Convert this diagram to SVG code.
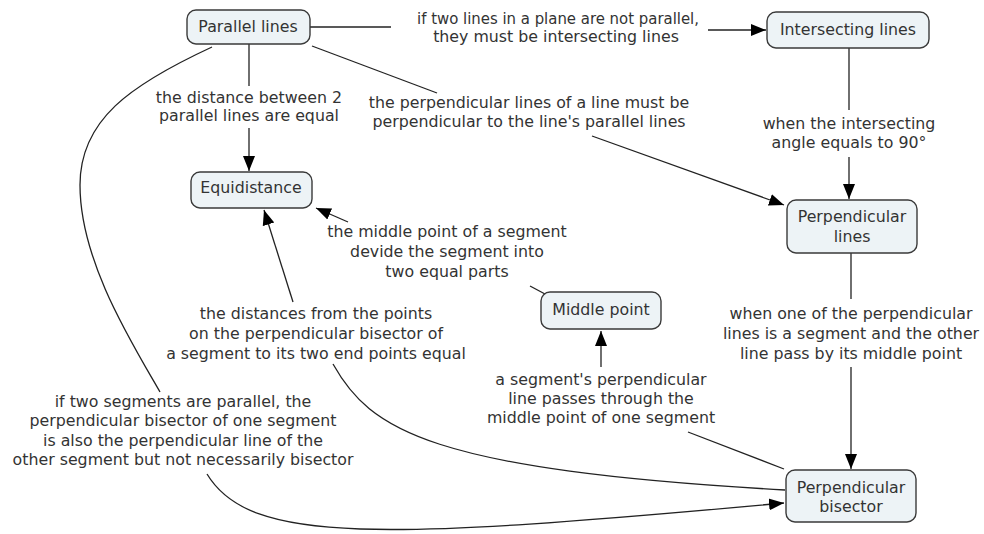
<svg xmlns="http://www.w3.org/2000/svg" width="984" height="534" viewBox="0 0 984 534">
<style>
.node rect{fill:#edf3f6;stroke:#3a3a3a;stroke-width:1.4}
text{font-family:"DejaVu Sans","Verdana",sans-serif;font-size:15.8px;fill:#333;text-anchor:middle}
.c path,.c line{fill:none;stroke:#222;stroke-width:1.3}
</style>
<defs>
<marker id="ah" markerUnits="userSpaceOnUse" markerWidth="16" markerHeight="14" viewBox="0 0 16 14" refX="15" refY="7" orient="auto">
<path d="M0,1 L15,7 L0,13 Z" fill="#000"/>
</marker>
</defs>
<rect width="984" height="534" fill="#fff"/>
<g class="c" id="connectors">
<line x1="310" y1="27" x2="391" y2="27"/>
<line x1="708" y1="30" x2="766" y2="30" marker-end="url(#ah)"/>
<line x1="249" y1="44" x2="249" y2="86"/>
<line x1="249" y1="128" x2="249" y2="171" marker-end="url(#ah)"/>
<line x1="312" y1="46" x2="437" y2="93"/>
<line x1="592" y1="136" x2="784" y2="205" marker-end="url(#ah)"/>
<line x1="849" y1="48" x2="849" y2="110"/>
<line x1="849" y1="157" x2="849" y2="199" marker-end="url(#ah)"/>
<line x1="851" y1="253" x2="851" y2="299"/>
<line x1="851" y1="367" x2="851" y2="469" marker-end="url(#ah)"/>
<line x1="545" y1="294" x2="530" y2="286"/>
<line x1="348" y1="222" x2="316" y2="208" marker-end="url(#ah)"/>
<line x1="293" y1="302" x2="264" y2="210" marker-end="url(#ah)"/>
<path d="M333,364 C370,430 430,470 785,490"/>
<line x1="784" y1="469" x2="688" y2="432"/>
<line x1="601" y1="367" x2="601" y2="331" marker-end="url(#ah)"/>
<path d="M212,47 C130,85 80,120 80,185 C80,260 130,340 160,392"/>
<path d="M207,474 C250,545 380,540 784,503" marker-end="url(#ah)"/>
</g>
<g id="labels">
<text x="558" y="24" textLength="282" lengthAdjust="spacingAndGlyphs">if two lines in a plane are not parallel,</text>
<text x="556" y="42">they must be intersecting lines</text>
<text x="249" y="103">the distance between 2</text>
<text x="249" y="121">parallel lines are equal</text>
<text x="529" y="108">the perpendicular lines of a line must be</text>
<text x="529" y="127">perpendicular to the line's parallel lines</text>
<text x="849" y="129">when the intersecting</text>
<text x="849" y="148">angle equals to 90°</text>
<text x="851" y="319">when one of the perpendicular</text>
<text x="851" y="339">lines is a segment and the other</text>
<text x="851" y="359">line pass by its middle point</text>
<text x="447" y="237">the middle point of a segment</text>
<text x="447" y="257">devide the segment into</text>
<text x="447" y="277">two equal parts</text>
<text x="316" y="319">the distances from the points</text>
<text x="316" y="339">on the perpendicular bisector of</text>
<text x="316" y="359">a segment to its two end points equal</text>
<text x="601" y="385">a segment's perpendicular</text>
<text x="601" y="404">line passes through the</text>
<text x="601" y="423">middle point of one segment</text>
<text x="183" y="407">if two segments are parallel, the</text>
<text x="183" y="426">perpendicular bisector of one segment</text>
<text x="183" y="446">is also the perpendicular line of the</text>
<text x="183" y="465">other segment but not necessarily bisector</text>
</g>
<g class="node" id="parallel-lines"><rect x="187" y="10" width="123" height="34" rx="9"/><text x="248" y="32">Parallel lines</text></g>
<g class="node" id="intersecting-lines"><rect x="767" y="12" width="162" height="36" rx="9"/><text x="848" y="35">Intersecting lines</text></g>
<g class="node" id="equidistance"><rect x="191" y="172" width="121" height="36" rx="9"/><text x="251" y="193">Equidistance</text></g>
<g class="node" id="perpendicular-lines"><rect x="787" y="200" width="130" height="53" rx="9"/><text x="852" y="222">Perpendicular</text><text x="852" y="242">lines</text></g>
<g class="node" id="middle-point"><rect x="541" y="292" width="120" height="37" rx="9"/><text x="601" y="315">Middle point</text></g>
<g class="node" id="perpendicular-bisector"><rect x="786" y="470" width="130" height="52" rx="9"/><text x="851" y="493">Perpendicular</text><text x="851" y="512">bisector</text></g>
</svg>
